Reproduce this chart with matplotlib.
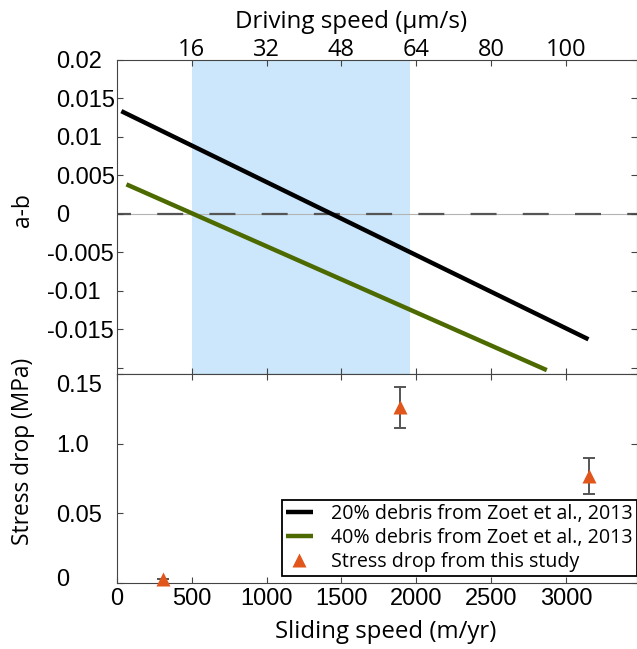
import matplotlib
matplotlib.use("Agg")
import matplotlib.pyplot as plt
import matplotlib.transforms as mtransforms

plt.rcParams['axes.unicode_minus'] = False

# a-b trends (sliding speed in m/yr)
debris20_speed = [31, 3148]
debris20_ab = [0.0133, -0.0163]
debris40_speed = [65, 2870]
debris40_ab = [0.0038, -0.0203]

# stress drops from this study
drop_speed = [309, 1890, 3155]
drop_mpa = [0.003, 0.126, 0.077]
drop_err = [0.0, 0.015, 0.013]

# driving speed range of the experiments
driving_span = [500, 1955]

sliding_ticks = [0, 500, 1000, 1500, 2000, 2500, 3000]
driving_tick_pos = [500, 1000, 1500, 2000, 2500, 3000]
driving_tick_labels = ['16', '32', '48', '64', '80', '100']
ab_ticks = [0.02, 0.015, 0.01, 0.005, 0, -0.005, -0.01, -0.015, -0.02]
ab_tick_labels = ['0.02', '0.015', '0.01', '0.005', '0', '-0.005', '-0.01', '-0.015', '']
drop_ticks = [0, 0.05, 0.1, 0.15]
drop_tick_labels = ['0', '0.05', '1.0', '0.15']

tick_font = 'Liberation Sans'
label_font = 'Open Sans'
tick_size = 17
label_size = 17

W, H = 637, 649
fig = plt.figure(figsize=(W / 100, H / 100), dpi=100)
left, right = 116.7, 636.7
ax1 = fig.add_axes([left / W, 1 - 374 / H, (right - left) / W, (374 - 59.5) / H])
ax2 = fig.add_axes([left / W, 1 - 583 / H, (right - left) / W, (583 - 374) / H])

spine_col = '#444444'
for ax in (ax1, ax2):
    for s in ax.spines.values():
        s.set_color(spine_col)
        s.set_linewidth(0.8)
    ax.tick_params(direction='in', length=4, width=0.8, color=spine_col,
                   top=True, right=True, labelsize=tick_size)
    ax.set_xlim(0, 3470)

# top panel
ax1.axvspan(driving_span[0], driving_span[1], color='#cce7fb', lw=0, zorder=0)
ax1.axhline(0, color='#b4b4b4', lw=0.8, zorder=1)
ax1.axhline(0, color='#555555', lw=1.6, linestyle=(5.4, (11.7, 11.8)), zorder=1)
l20, = ax1.plot(debris20_speed, debris20_ab, color='k', lw=3.2,
                solid_capstyle='butt', label='20% debris from Zoet et al., 2013')
l40, = ax1.plot(debris40_speed, debris40_ab, color='#4c6a00', lw=3.2,
                solid_capstyle='butt', label='40% debris from Zoet et al., 2013')
ax1.set_ylim(-0.0208, 0.02)
ax1.set_yticks(ab_ticks)
ax1.set_yticklabels(ab_tick_labels, fontfamily=tick_font)
ax1.set_xticks(driving_tick_pos)
ax1.set_xticklabels(driving_tick_labels, fontfamily=label_font)
ax1.tick_params(axis='x', labelbottom=False, labeltop=True, pad=-2)
ax1.xaxis.set_label_position('top')
ax1.set_xlabel('Driving speed (\u03bcm/s)', fontfamily=label_font, fontsize=label_size)
ax1.set_ylabel('a-b', fontfamily=label_font, fontsize=label_size)

# bottom panel
eb = ax2.errorbar(drop_speed, drop_mpa, yerr=drop_err, fmt='none', ecolor='#555555',
                  elinewidth=1.4, capsize=4, capthick=1.4, zorder=2)
for cap in eb[1]:
    cap.set_color('k')
pts, = ax2.plot(drop_speed, drop_mpa, '^', color='#e0561b', ms=10.5, mec='none',
                zorder=3, label='Stress drop from this study', clip_on=False)
ax2.set_ylim(0, 0.15)
ax2.set_yticks(drop_ticks)
ax2.set_yticklabels(drop_tick_labels, fontfamily=tick_font)
ax2.set_xticks(sliding_ticks)
ax2.set_xticklabels([str(t) for t in sliding_ticks], fontfamily=tick_font)
ax2.set_xlabel('Sliding speed (m/yr)', fontfamily=label_font, fontsize=label_size)
ax2.set_ylabel('Stress drop (MPa)', fontfamily=label_font, fontsize=label_size)

renderer = fig.canvas.get_renderer()

def fit(text, target_px, vertical=False):
    bb = text.get_window_extent(renderer)
    size = bb.height if vertical else bb.width
    text.set_fontsize(text.get_fontsize() * target_px / size)

# label sizes and spots, in pixels of the figure
fit(ax1.xaxis.label, 232)
fit(ax2.xaxis.label, 221)
fit(ax2.yaxis.label, 188, vertical=True)
ax1.yaxis.label.set_fontsize(ax2.yaxis.label.get_fontsize())

ax1.xaxis.set_label_coords((351 - left) / (right - left), (374 - 28.3) / 314.5)
ax1.xaxis.label.set_va('baseline')
ax2.xaxis.set_label_coords((386 - left) / (right - left), (583 - 638.3) / 209)
ax2.xaxis.label.set_va('baseline')
ax1.yaxis.set_label_coords(-0.18, 0.52)
ax1.yaxis.label.set_va('center')
ax2.yaxis.set_label_coords(-0.18, 0.632)
ax2.yaxis.label.set_va('center')

def make_legend(size):
    lg = ax2.legend(handles=[l20, l40, pts], loc='lower right',
                    bbox_to_anchor=(1.0, 0.0335), borderaxespad=0,
                    prop={'family': label_font, 'size': size}, frameon=True,
                    fancybox=False, framealpha=1, edgecolor='k',
                    handlelength=1.35, handletextpad=0.95, labelspacing=0.2,
                    borderpad=0.2)
    lg.get_frame().set_linewidth(1.3)
    return lg

leg = make_legend(14)
w0 = leg.get_texts()[0].get_window_extent(renderer).width
leg = make_legend(14 * 303 / w0)

# y tick labels are left aligned, with a shift for signs and end labels
for ax in (ax1, ax2):
    ax.tick_params(axis='y', pad=50)
    for lbl in ax.get_yticklabels():
        lbl.set_ha('left')
fig.canvas.draw()

def shift(lbl, dx, dy):
    lbl.set_transform(lbl.get_transform() +
                      mtransforms.ScaledTranslation(dx / 100, dy / 100, fig.dpi_scale_trans))

for lbl in ax1.get_yticklabels():
    shift(lbl, 0 if lbl.get_text().startswith('-') else 9, 0)
for lbl in ax2.get_yticklabels():
    t = lbl.get_text()
    shift(lbl, 9, 5 if t == '0' else (-9 if t == '0.15' else 0))

fig.savefig('out.png', dpi=100)
